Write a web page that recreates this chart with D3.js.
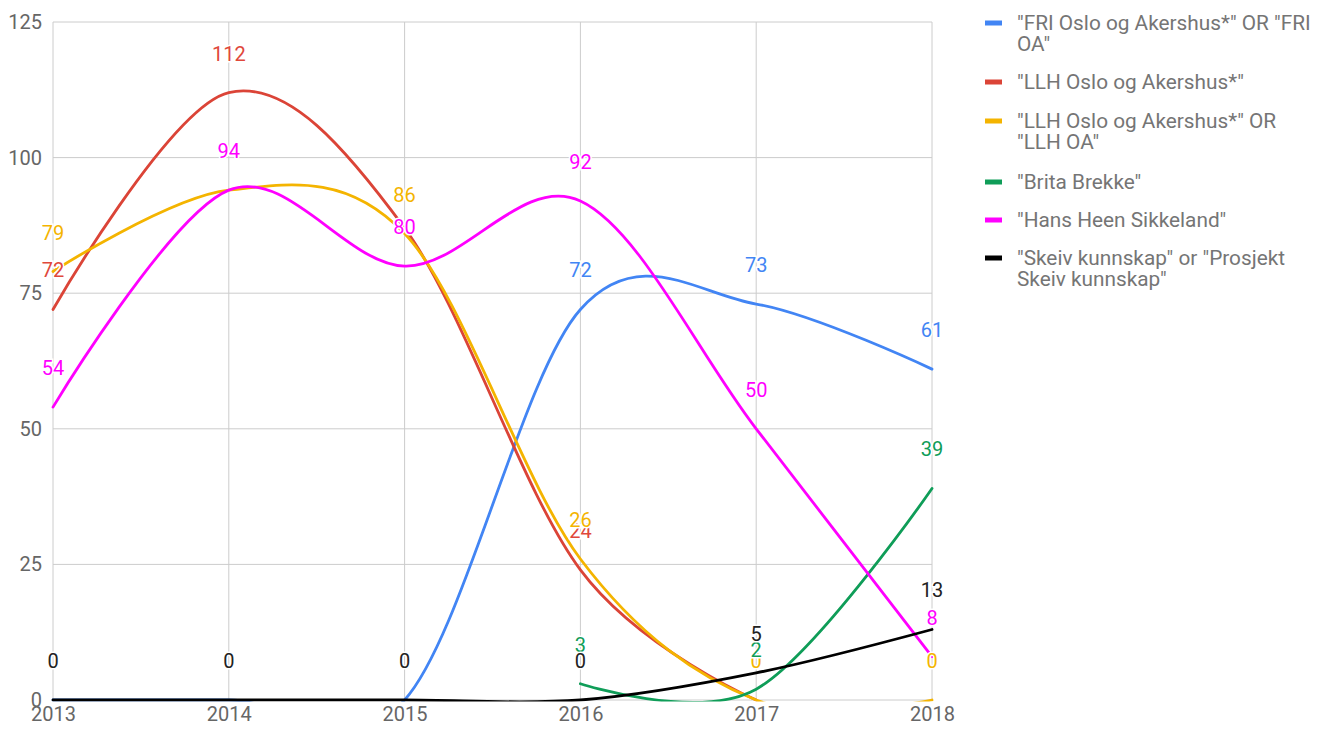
<!DOCTYPE html>
<html>
<head>
<meta charset="utf-8">
<script src="https://cdn.jsdelivr.net/npm/d3@7"></script>
<style>
  html, body { margin: 0; padding: 0; background: #fff; }
  text { font-family: Roboto, "Noto Sans", sans-serif; }
</style>
</head>
<body>
<svg id="chart" width="1330" height="729"></svg>
<script>
const years = [2013, 2014, 2015, 2016, 2017, 2018];
const yTicks = [0, 25, 50, 75, 100, 125];

const seriesNames = [
  ['"FRI Oslo og Akershus*" OR "FRI', 'OA"'],
  ['"LLH Oslo og Akershus*"'],
  ['"LLH Oslo og Akershus*" OR', '"LLH OA"'],
  ['"Brita Brekke"'],
  ['"Hans Heen Sikkeland"'],
  ['"Skeiv kunnskap" or "Prosjekt', 'Skeiv kunnskap"']
];
const seriesColors = ["#4285f4", "#db4437", "#f4b400", "#0f9d58", "#ff00ff", "#000000"];

const friValues    = [0, 0, 0, 72, 73, 61];
const llhValues    = [72, 112, 87, 24, 0, null];
const llhOaValues  = [79, 94, 86, 26, 0, 0];
const britaValues  = [null, null, null, 3, 2, 39];
const hansValues   = [54, 94, 80, 92, 50, 8];
const skeivValues  = [0, 0, 0, 0, 5, 13];

const allValues = [friValues, llhValues, llhOaValues, britaValues, hansValues, skeivValues];
const labelColors = ["#4285f4", "#e0483b", "#f4b400", "#0f9d58", "#ff00ff", "#222222"];

const svg = d3.select("#chart");
const x = d3.scaleLinear().domain([2013, 2018]).range([53, 932]);
const y = d3.scaleLinear().domain([0, 125]).range([700, 22]);

// gridlines
const grid = svg.append("g");
grid.selectAll("line.h").data(yTicks).join("line")
  .attr("x1", x(2013)).attr("x2", x(2018))
  .attr("y1", d => y(d)).attr("y2", d => y(d))
  .attr("stroke", "#cccccc").attr("stroke-width", 1);
grid.selectAll("line.v").data(years).join("line")
  .attr("x1", d => x(d)).attr("x2", d => x(d))
  .attr("y1", y(0)).attr("y2", y(125))
  .attr("stroke", "#cccccc").attr("stroke-width", 1);

// axes labels via d3 axes
const yAxis = d3.axisLeft(y).tickValues(yTicks).tickSize(0).tickPadding(11);
const ga = svg.append("g").attr("transform", `translate(${x(2013)},0)`).call(yAxis);
ga.select(".domain").remove();
ga.selectAll("text").attr("fill", "#666").style("font-size", "20px").style("font-family", "Roboto, sans-serif");

const xAxis = d3.axisBottom(x).tickValues(years).tickFormat(d3.format("d")).tickSize(0).tickPadding(7);
const gx = svg.append("g").attr("transform", `translate(0,${y(0)})`).call(xAxis);
gx.select(".domain").remove();
gx.selectAll("text").attr("fill", "#666").style("font-size", "20px").style("font-family", "Roboto, sans-serif");

// clip
svg.append("defs").append("clipPath").attr("id", "plot")
  .append("rect").attr("x", x(2013) - 2).attr("y", y(125))
  .attr("width", x(2018) - x(2013) + 4).attr("height", y(0) - y(125) + 1.5);

const line = d3.line()
  .defined(d => d.v !== null)
  .x(d => x(d.year)).y(d => y(d.v))
  .curve(d3.curveCatmullRom.alpha(0));

const lines = svg.append("g").attr("clip-path", "url(#plot)");
allValues.forEach((vals, i) => {
  const pts = years.map((yr, j) => ({ year: yr, v: vals[j] }));
  lines.append("path").datum(pts)
    .attr("d", line)
    .attr("fill", "none")
    .attr("stroke", seriesColors[i])
    .attr("stroke-width", 2.8)
    .attr("stroke-linejoin", "round")
    .attr("stroke-linecap", "round");
});

// data labels with collision hiding (later series win)
const placed = years.map(() => []);
const show = allValues.map(v => v.map(() => false));
for (let i = allValues.length - 1; i >= 0; i--) {
  allValues[i].forEach((v, j) => {
    if (v === null) return;
    const py = y(v);
    if (placed[j].some(p => Math.abs(p - py) < 8)) return;
    placed[j].push(py);
    show[i][j] = true;
  });
}
const labels = svg.append("g");
allValues.forEach((vals, i) => {
  vals.forEach((v, j) => {
    if (v === null || !show[i][j]) return;
    labels.append("text")
      .attr("x", x(years[j]))
      .attr("y", y(v) - 32)
      .attr("text-anchor", "middle")
      .attr("fill", labelColors[i])
      .attr("stroke", "#fff").attr("stroke-width", 3)
      .attr("paint-order", "stroke")
      .style("font-size", "20px")
      .text(v);
  });
});

// legend
const legendTops = [23, 82, 121, 182, 220, 258];
const lg = svg.append("g");
seriesNames.forEach((lines_, i) => {
  const top = legendTops[i];
  lg.append("rect").attr("x", 985).attr("y", top - 2.5).attr("width", 17).attr("height", 5)
    .attr("fill", seriesColors[i]);
  lines_.forEach((t, k) => {
    lg.append("text").attr("x", 1017).attr("y", top + 7 + k * 21)
      .attr("fill", "#757575").style("font-size", "20.8px").text(t);
  });
});
</script>
</body>
</html>
